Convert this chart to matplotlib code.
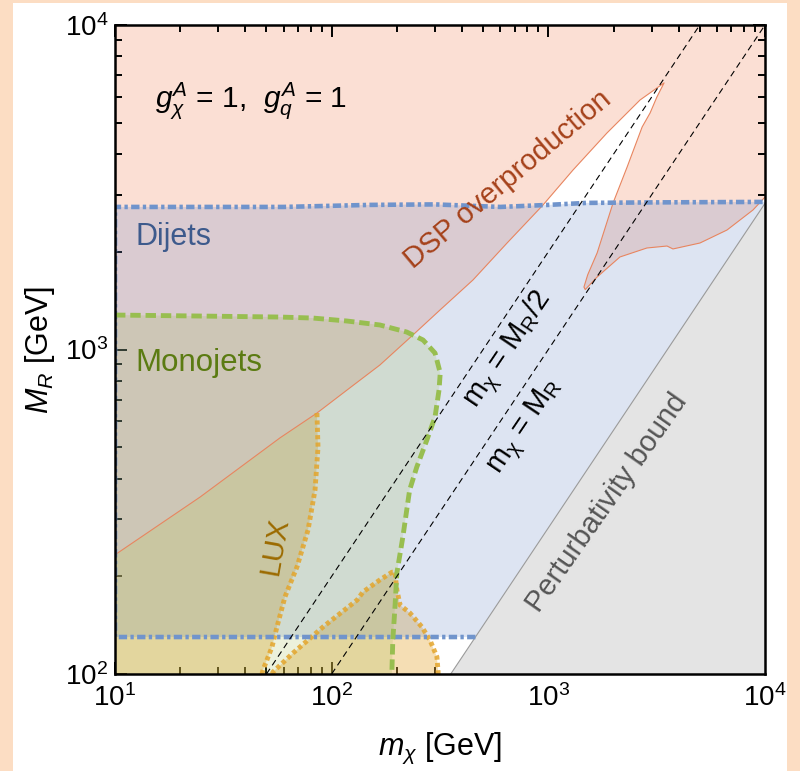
import numpy as np
import matplotlib
matplotlib.use('Agg')
import matplotlib.pyplot as plt
from matplotlib.patches import Rectangle

plt.rcParams['font.family'] = ['Liberation Sans', 'DejaVu Sans']
plt.rcParams['mathtext.fontset'] = 'custom'
plt.rcParams['mathtext.rm'] = 'Liberation Sans'
plt.rcParams['mathtext.it'] = 'Liberation Sans:italic'
plt.rcParams['mathtext.bf'] = 'Liberation Sans:bold'
plt.rcParams['lines.scale_dashes'] = False

# ---------------- data (m_chi [GeV], M_R [GeV]) ----------------
# DSP overproduction boundary (region above / left of it is excluded)
dsp_x = [10, 24.7, 57.7, 85.5, 117.7, 167, 237, 316, 449, 645, 945, 1300, 1865, 2650, 3420,
         3170, 2950, 2710, 2310, 1990, 1680, 1520, 1460, 1480, 1680, 2140, 2850, 3530, 3760,
         5010, 6680, 8800, 10000]
dsp_y = [233, 351, 534, 637, 750, 896, 1108, 1323, 1638, 2129, 2788, 3574, 4648, 5873, 6630,
         6000, 5360, 4850, 3650, 2830, 1985, 1700, 1558, 1530, 1673, 1928, 2055, 2084, 2041,
         2129, 2335, 2691, 2950]

# Dijets: lower and upper bounds
dijet_low_y = 130
dijet_top_x = [10, 60, 150, 300, 600, 1000, 1500, 3000, 10000]
dijet_top_y = [2750, 2750, 2790, 2800, 2750, 2790, 2830, 2840, 2850]

# Monojets boundary
mono_x = [10, 24.7, 57.7, 81.9, 117.7, 167, 222, 264, 300, 317, 313, 300, 275, 247, 229, 213,
          200, 196, 191.5, 189.5]
mono_y = [1277, 1268, 1259, 1250, 1224, 1190, 1132, 1070, 975, 847, 750, 620, 526, 434, 369,
          264, 205, 161, 127, 100]

# LUX boundaries
lux1_x = [85.5, 86.5, 83.8, 77.8, 69.2, 60.9, 55.9, 53.0, 48.2, 47.7]
lux1_y = [637, 500, 369, 278, 214, 173, 139.6, 121, 102.9, 100]
lux2_x = [53.2, 53.6, 66.3, 91.2, 131, 139.5, 167, 190, 196, 200, 207, 230, 261, 284.5, 306, 310, 310]
lux2_y = [100, 101.4, 116, 139.6, 169, 179, 195, 206, 206, 181.5, 163, 154, 139.6, 127, 113, 101.4, 100]

# Perturbativity bound  m_chi = sqrt(4 pi) M_R
pert_x = [354.5, 10000]
pert_y = [100, 2821]

# reference lines
half_x = [50, 5000]
half_y = [100, 10000]
eq_x = [100, 10000]
eq_y = [100, 10000]

xmin, xmax, ymin, ymax = 10, 1e4, 100, 1e4

# ---------------- figure ----------------
fig = plt.figure(figsize=(8, 7.71), dpi=100)
fig.patch.set_facecolor('#FCDDC3')
fig.add_artist(Rectangle((13/800, 0), (787-13)/800, (771-3)/771, transform=fig.transFigure,
                         facecolor='white', edgecolor='none', zorder=-10))
ax = fig.add_axes([115/800, 97/771, 650/800, 649/771])
ax.set_xscale('log')
ax.set_yscale('log')
ax.set_xlim(xmin, xmax)
ax.set_ylim(ymin, ymax)
ax.set_facecolor('none')

# DSP region
ax.fill(dsp_x + [xmax, xmin], dsp_y + [ymax, ymax], facecolor='#FBDFD4', edgecolor='none', zorder=1)

# LUX regions
lux1_px = [xmin] + dsp_x[:4] + lux1_x[1:]
lux1_py = [ymin] + dsp_y[:4] + lux1_y[1:]
ax.fill(lux1_px, lux1_py, facecolor='#E6AA3C', alpha=0.38, edgecolor='none', zorder=2)
ax.fill(lux2_x, lux2_y, facecolor='#E6AA3C', alpha=0.38, edgecolor='none', zorder=2)

# Dijet region
dj_x = [xmin, pert_x[0] * dijet_low_y / pert_y[0], pert_x[1], xmax] + dijet_top_x[::-1][1:]
dj_y = [dijet_low_y, dijet_low_y, pert_y[1], dijet_top_y[-1]] + dijet_top_y[::-1][1:]
ax.fill(dj_x, dj_y, facecolor='#6E8CC8', alpha=0.23, edgecolor='none', zorder=3)

# Monojet region
ax.fill([xmin] + mono_x + [xmin], [mono_y[0]] + mono_y + [ymin], facecolor='#96B43C',
        alpha=0.18, edgecolor='none', zorder=4)

# Perturbativity (gray)
ax.fill([pert_x[0], xmax, pert_x[1]], [pert_y[0], ymin, pert_y[1]], facecolor='#E4E4E4',
        edgecolor='none', zorder=5)
ax.plot(pert_x, pert_y, color='#9A9A9A', lw=0.8, zorder=6)

# boundary lines
ax.plot(dsp_x, dsp_y, color='#E8855F', lw=0.8, zorder=6)
lux_kw = dict(color='#E3A52C', alpha=0.85, lw=3.5, dashes=(3.0, 2.3), zorder=7)
ax.plot(lux1_x, lux1_y, **lux_kw)
ax.plot(lux2_x, lux2_y, **lux_kw)
dj_kw = dict(color='#7094CC', lw=3.3, dashes=(6.0, 2.4, 2.4, 2.4), zorder=8)
ax.plot([dj_x[1], xmin, xmin] + dijet_top_x, [dijet_low_y, dijet_low_y, dijet_top_y[0]] + dijet_top_y, **dj_kw)
ax.plot(mono_x, mono_y, color='#98BE50', lw=3.5, dashes=(7.5, 3.5), zorder=9)
ax.plot(half_x, half_y, color='black', lw=0.8, dashes=(4.5, 3.0), zorder=10)
ax.plot(eq_x, eq_y, color='black', lw=0.8, dashes=(4.5, 3.0), zorder=10)

# texts
ax.text(15.3, 5873, r'$g_\chi^A$ = 1,  $g_q^A$ = 1', fontsize=21.5, ha='left', va='center', zorder=12)
ax.text(12.4, 2222, 'Dijets', color='#3D5A8C', fontsize=22, ha='left', va='center', zorder=12)
ax.text(12.4, 908, 'Monojets', color='#5B7B12', fontsize=22.5, ha='left', va='center', zorder=12)
ax.text(651, 3330, 'DSP overproduction', color='#A5411A', fontsize=21, rotation=40,
        ha='center', va='center', rotation_mode='anchor', zorder=12)
ax.text(54.8, 248, 'LUX', color='#9C6B00', fontsize=21.5, rotation=80,
        ha='center', va='center', rotation_mode='anchor', zorder=12)
ax.text(1865, 336.5, 'Perturbativity bound', color='#555555', fontsize=21, rotation=55,
        ha='center', va='center', rotation_mode='anchor', zorder=12)
ax.text(651, 997, r'$\mathrm{m}_{\mathrm{\chi}}$ = $\mathrm{M}_{\mathrm{R}}$/2', fontsize=21, rotation=56,
        ha='center', va='center', rotation_mode='anchor', zorder=12)
ax.text(780, 577, r'$\mathrm{m}_{\mathrm{\chi}}$ = $\mathrm{M}_{\mathrm{R}}$', fontsize=21, rotation=56,
        ha='center', va='center', rotation_mode='anchor', zorder=12)

# axes styling
for s in ax.spines.values():
    s.set_linewidth(1.8)
    s.set_zorder(20)
ax.tick_params(which='both', direction='in', top=True, right=True, width=1.4, labelsize=20)
ax.tick_params(which='major', length=8.5)
ax.tick_params(which='minor', length=5)
ax.tick_params(axis='x', pad=7)
ax.tick_params(axis='y', pad=5)
ax.set_xlabel(r'$m_\chi$ [GeV]', fontsize=22)
ax.set_ylabel(r'$M_R$ [GeV]', fontsize=22)
ax.xaxis.set_label_coords(0.5, -0.087)
ax.yaxis.set_label_coords(-0.089, 0.5)

fig.savefig('out.png', dpi=100, facecolor=fig.get_facecolor())
